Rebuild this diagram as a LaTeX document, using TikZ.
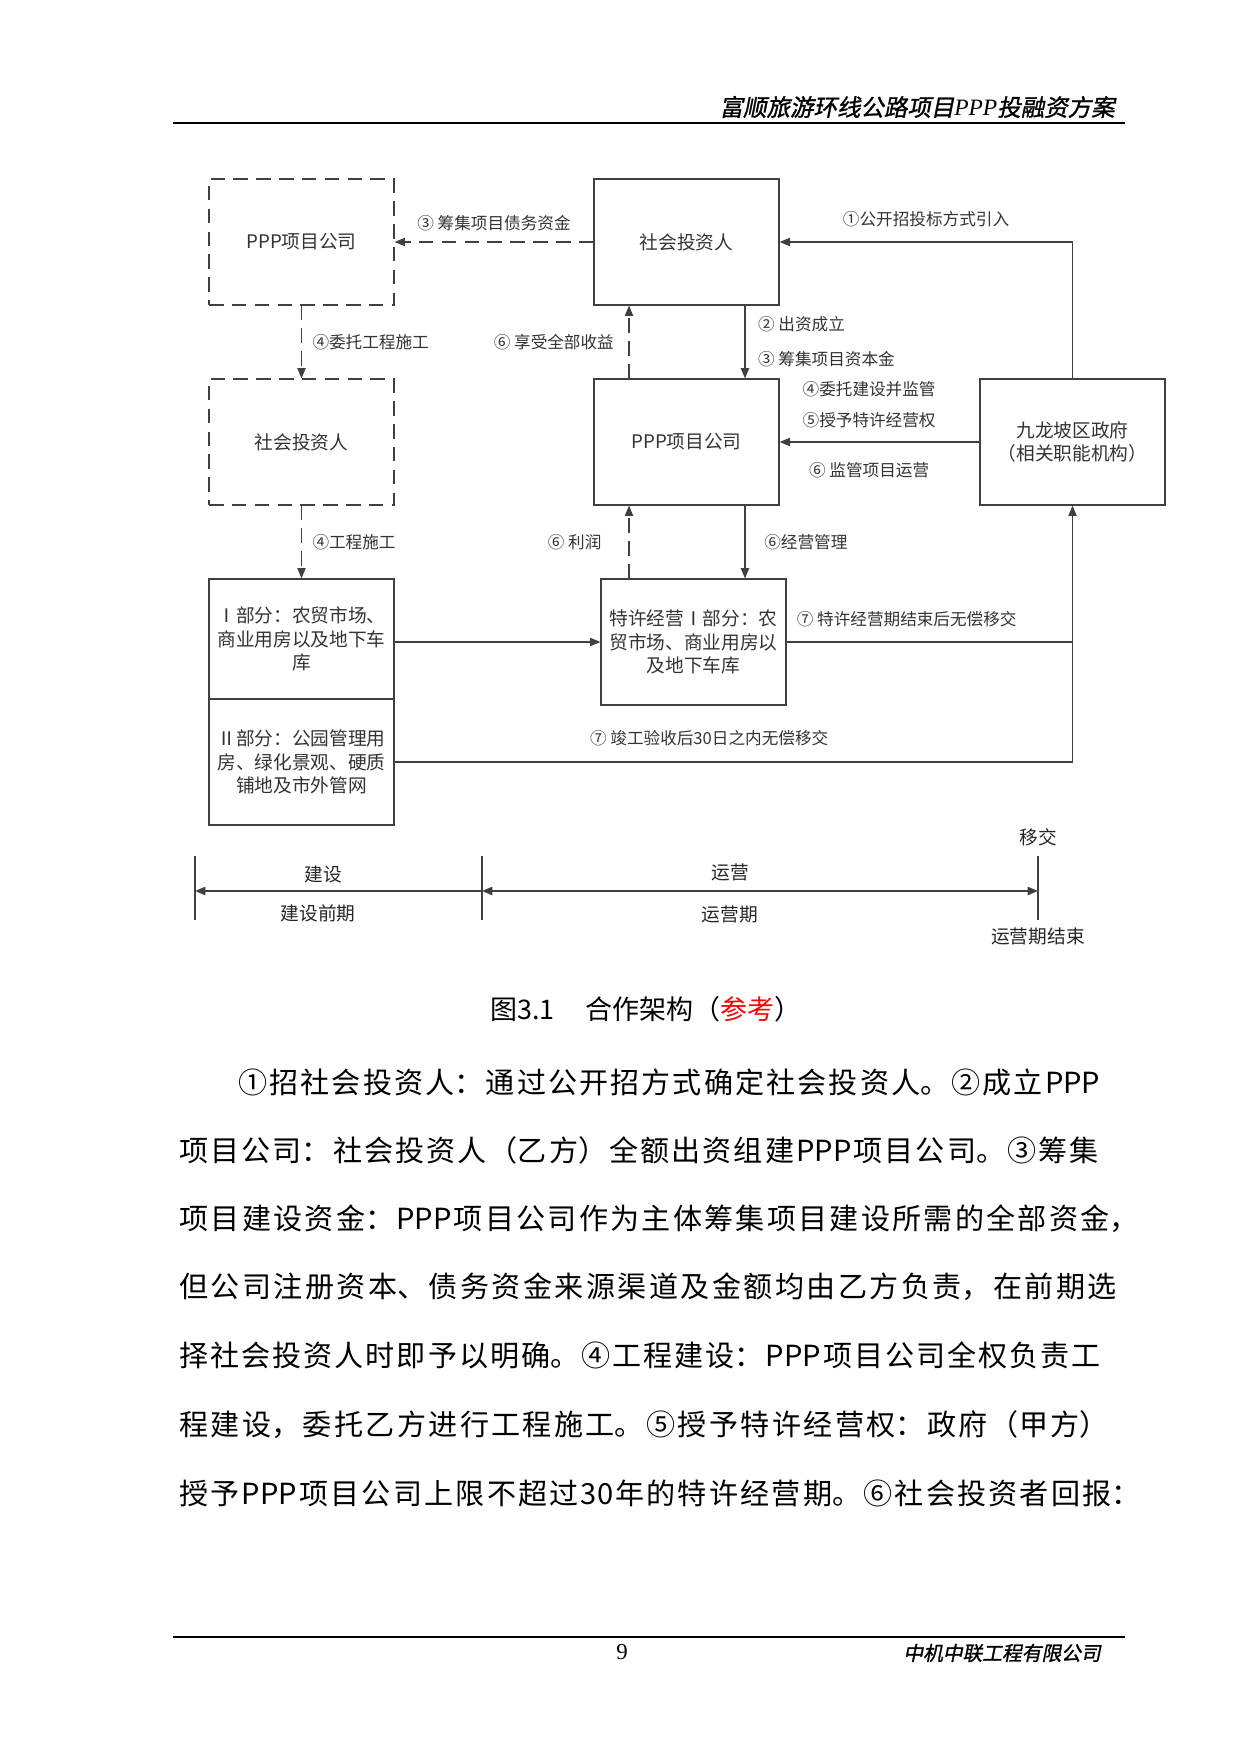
\documentclass[tikz,border=0pt]{standalone}
\usepackage{fontspec}
\setmainfont{Noto Sans CJK SC}
\newfontfamily\headfont[FakeSlant=0.2,FakeBold=1.2]{Noto Sans CJK SC}
\newfontfamily\latserif{Liberation Serif}
\usetikzlibrary{arrows.meta, calc}
\XeTeXlinebreaklocale "zh"
\XeTeXlinebreakskip=0pt plus 4pt

\begin{document}
\begin{tikzpicture}[
    x=0.016922cm, y=-0.016922cm,
    font=\fontsize{9}{11.3}\selectfont,
    >={Triangle[length=5pt,width=4pt]},
    box/.style={rectangle, draw=black!75, line width=0.6pt, text=black!80, align=center, minimum width=3.13cm, minimum height=2.13cm, inner sep=1pt},
    dbox/.style={box, dash pattern=on 7pt off 4pt},
    flow/.style={draw=black!75, line width=0.6pt},
    dflow/.style={flow, dash pattern=on 7pt off 4pt},
    lbl/.style={font=\fontsize{8}{16.9}\selectfont, text=black!80, inner sep=1pt},
    tl/.style={font=\fontsize{9}{11}\selectfont, text=black!85},
    bodyline/.style={anchor=west, inner sep=0pt, align=justify, font=\fontsize{14}{16}\selectfont, execute at begin node={\noindent\parfillskip=0pt\relax}}
]
\fill[white] (0,0) rectangle (1241,1755);
\useasboundingbox (0,0) rectangle (1241,1755);

% Header and footer
\node[anchor=east, font=\headfont\fontsize{11.3}{13}\selectfont] (head) at (1122,107) {富顺旅游环线公路项目{\latserif\itshape PPP}投融资方案};
\draw[line width=1.2pt] (173,123) -- (1125,123);
\draw[line width=1.2pt] (173,1637) -- (1125,1637);
\node[font=\latserif\fontsize{11}{13}\selectfont] (page) at (622,1652) {9};
\node[anchor=east, font=\headfont\fontsize{9.5}{11}\selectfont] (firm) at (1108,1653) {中机中联工程有限公司};

% Nodes
\node[dbox] (A) at (301.5,242) {PPP项目公司};
\node[dbox] (B) at (301.5,442) {社会投资人};
\node[box] (C) at (686.5,242) {社会投资人};
\node[box] (D) at (686.5,442) {PPP项目公司};
\node[box] (E) at (1072.5,442) {九龙坡区政府\\（相关职能机构）};
\node[box, minimum height=2.03cm] (F) at (301.5,639) {Ⅰ部分：农贸市场、\\商业用房以及地下车\\库};
\node[box] (G) at (301.5,762) {Ⅱ部分：公园管理用\\房、绿化景观、硬质\\铺地及市外管网};
\node[box] (H) at (693.5,642) {特许经营Ⅰ部分：农\\贸市场、商业用房以\\及地下车库};

\coordinate (up) at (629,0);
\coordinate (dn) at (745,0);

% Arrows
\draw[flow,->] (E.north) |- (C.east) node[lbl, pos=0.75, above=6pt] (l1) {①公开招投标方式引入};
\draw[dflow,->] (C.west) -- (A.east) node[lbl, midway, above=4pt] (l3a) {③ 筹集项目债务资金};
\draw[dflow,->] (A.south) -- (B.north) node[lbl, midway, right=4pt] (l4a) {④委托工程施工};
\draw[flow,->] (C.south -| dn) -- (D.north -| dn) node[lbl, midway, right=5pt, align=left] (l23) {② 出资成立\\③ 筹集项目资本金};
\draw[dflow,->] (D.north -| up) -- (C.south -| up) node[lbl, midway, left=6pt] (l6a) {⑥ 享受全部收益};
\draw[flow,->] (E.west) -- (D.east)
    node[lbl, midway, above=5.5pt, xshift=-5pt, align=center, font=\fontsize{8}{15}\selectfont] (l45) {④委托建设并监管\\⑤授予特许经营权}
    node[lbl, midway, below=8.5pt, xshift=-5pt] (l6b) {⑥ 监管项目运营};
\draw[dflow,->] (B.south) -- (F.north) node[lbl, midway, right=4pt] (l4b) {④工程施工};
\draw[flow,->] (D.south -| dn) -- (H.north -| dn) node[lbl, midway, right=8pt] (l6c) {⑥经营管理};
\draw[dflow,->] (H.north -| up) -- (D.south -| up) node[lbl, midway, left=12pt] (l6d) {⑥ 利润};
\draw[flow,->] (F.east |- H.west) -- (H.west);
\draw[flow,->] (H.east) -| (E.south) node[lbl, pos=0.21, above=6pt] (l7a) {⑦ 特许经营期结束后无偿移交};
\draw[flow] (G.east) -| (H.east -| E.south) node[lbl, pos=0.232, above=6.5pt] (l7b) {⑦ 竣工验收后30日之内无偿移交};

% Time line
\coordinate (t0) at (195,891);
\coordinate (t1) at (482,891);
\coordinate (t2) at (1038,891);
\foreach \t in {t0,t1,t2}
    \draw[flow, line width=0.8pt] ($(\t)+(0,-35)$) -- ($(\t)+(0,29)$);
\draw[flow, line width=0.8pt, <-] (t0) -- (t1);
\draw[flow, line width=0.8pt, <->] (t1) -- (t2);
\node[tl] (build) at (323,874) {建设};
\node[tl] (buildpre) at (318,913) {建设前期};
\node[tl] (oper) at (730,872) {运营};
\node[tl] (operper) at (730,914) {运营期};
\node[tl] (hand) at (1038,837) {移交};
\node[tl] (operend) at (1038,936) {运营期结束};

% Caption
\node[font=\fontsize{13}{15}\selectfont] (cap) at (646,1009) {图3.1\hspace{15pt}合作架构（\textcolor{red}{参考}）};

% Body text
\node[bodyline, text width=415pt] (p1) at (238,1082) {①招社会投资人：通过公开招方式确定社会投资人。②成立PPP};
\node[bodyline, text width=442.6pt] (p2) at (179,1150) {项目公司：社会投资人（乙方）全额出资组建PPP项目公司。③筹集};
\node[bodyline, text width=461.9pt] (p3) at (179,1219) {项目建设资金：PPP项目公司作为主体筹集项目建设所需的全部资金，};
\node[bodyline, text width=451.3pt] (p4) at (179,1287) {但公司注册资本、债务资金来源渠道及金额均由乙方负责，在前期选};
\node[bodyline, text width=443.6pt] (p5) at (179,1355) {择社会投资人时即予以明确。④工程建设：PPP项目公司全权负责工};
\node[bodyline, text width=447.4pt] (p6) at (179,1425) {程建设，委托乙方进行工程施工。⑤授予特许经营权：政府（甲方）};
\node[bodyline, text width=462.8pt] (p7) at (179,1493) {授予PPP项目公司上限不超过30年的特许经营期。⑥社会投资者回报：};
\end{tikzpicture}
\end{document}
